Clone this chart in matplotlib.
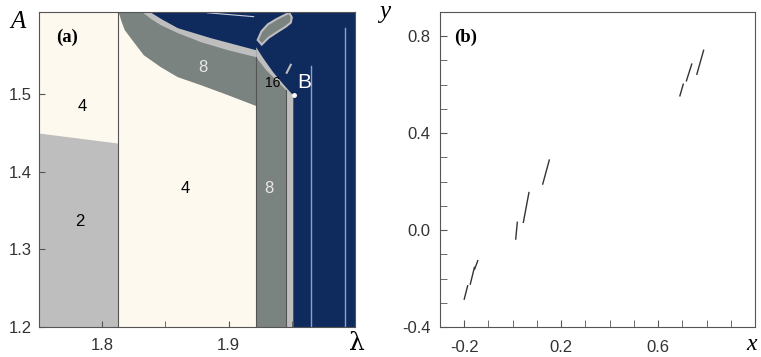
import numpy as np
import matplotlib.pyplot as plt
from matplotlib.ticker import MultipleLocator, FormatStrFormatter

plt.rcParams['font.family'] = ['Liberation Sans', 'DejaVu Sans']
plt.rcParams['axes.unicode_minus'] = False

# panel (a): region boundaries, (lambda, A)
lam_lim = (1.75, 2.0)
A_lim = (1.2, 1.606)

# boundary between period-2 and period-4 on the left
split_lam = [1.75, 1.8127]
split_A = [1.450, 1.437]

# curved period-8 band (lower edge, upper edge, top of light rim)
band_low_lam = [1.8127, 1.8151, 1.8175, 1.8222, 1.8325, 1.8460, 1.8595, 1.8778, 1.8992, 1.9214]
band_low_A = [1.606, 1.5935, 1.5832, 1.573, 1.551, 1.5355, 1.5226, 1.5123, 1.4994, 1.4855]
band_up_lam = [1.8127, 1.8317, 1.8380, 1.8460, 1.8595, 1.8778, 1.8992, 1.9214]
band_up_A = [1.606, 1.606, 1.598, 1.5897, 1.5794, 1.5677, 1.5574, 1.5484]
rim_lam = [1.8127, 1.8381, 1.8470, 1.8595, 1.8857, 1.9214]
rim_A = [1.606, 1.606, 1.597, 1.5858, 1.5729, 1.5574]

# vertical column next to the chaos region
col_rim_lam = [1.9214, 1.9270, 1.9349, 1.9429, 1.9492, 1.9508]
col_rim_A = [1.5613, 1.5471, 1.5290, 1.5135, 1.5019, 1.4994]
col_lam = [1.9214, 1.9294, 1.9373, 1.9452]
col_A = [1.5484, 1.5316, 1.5187, 1.5058]

# small island near the top
isl_lam = [1.9230, 1.9260, 1.9310, 1.9370, 1.9429, 1.9480, 1.9500, 1.9492, 1.9452, 1.9389, 1.9317, 1.9262]
isl_A = [1.5700, 1.5810, 1.5900, 1.5960, 1.6010, 1.6050, 1.5990, 1.5923, 1.5871, 1.5806, 1.5729, 1.5640]

# thin windows inside the chaotic region
win_lam = [1.965, 1.992]
win_top = [1.536, 1.585]

point_B = (1.9516, 1.4994)

# panel (b): attractor pieces as short segments (x0, y0, x1, y1)
seg_x0 = [-0.200, -0.175, -0.157, 0.0125, 0.044, 0.124, 0.690, 0.717, 0.760]
seg_y0 = [-0.285, -0.223, -0.161, -0.037, 0.032, 0.190, 0.554, 0.616, 0.643]
seg_x1 = [-0.186, -0.158, -0.144, 0.019, 0.067, 0.151, 0.704, 0.739, 0.788]
seg_y1 = [-0.230, -0.154, -0.126, 0.032, 0.155, 0.289, 0.602, 0.685, 0.742]

cream = '#fdf9ef'
light = '#bdbebd'
dark = '#7a837f'
navy = '#0f2a5d'
edge = '#555555'

fig = plt.figure(figsize=(7.61, 3.57), dpi=100)
ax1 = fig.add_axes([0.0512, 0.0840, 0.4153, 0.8824])
ax2 = fig.add_axes([0.5782, 0.0840, 0.4139, 0.8824])

# ---- panel (a)
ax1.set_facecolor(navy)
ax1.fill_between([lam_lim[0], split_lam[1]], A_lim[0], A_lim[1], color=cream, lw=0)
ax1.fill_between(split_lam, A_lim[0], split_A, color=light, lw=0)
ax1.fill_between(rim_lam, A_lim[0], rim_A, color=light, lw=0)
ax1.fill_between(band_up_lam, A_lim[0], band_up_A, color=dark, lw=0)
ax1.fill_between(band_low_lam, A_lim[0], band_low_A, color=cream, lw=0)
ax1.fill_between(col_rim_lam, A_lim[0], col_rim_A, color=light, lw=0)
ax1.fill_between(col_lam, A_lim[0], col_A, color=dark, lw=0)
ax1.fill(isl_lam, isl_A, facecolor=dark, edgecolor=light, lw=1.5)
ax1.plot([1.9460, 1.9492], [1.5277, 1.5380], color=light, lw=1.5)
ax1.plot([1.8833, 1.9198], [1.605, 1.600], color='#c8d0e0', lw=0.8)

ax1.plot([split_lam[1], split_lam[1]], A_lim, color=edge, lw=0.8)
ax1.plot([col_lam[0], col_lam[0]], [A_lim[0], col_A[0]], color=edge, lw=0.8)
ax1.plot([col_lam[-1], col_lam[-1]], [A_lim[0], col_A[-1]], color=edge, lw=0.8)
for lx, top in zip(win_lam, win_top):
    ax1.plot([lx, lx], [A_lim[0], top], color='#8fa0c4', lw=1.0)

ax1.plot(*point_B, 'o', color='white', ms=2.5)

ax1.text(1.7841, 1.4839, '4', fontsize=12, ha='center', va='center')
ax1.text(1.7825, 1.3355, '2', fontsize=12, ha='center', va='center')
ax1.text(1.8659, 1.378, '4', fontsize=12, ha='center', va='center')
ax1.text(1.8794, 1.5342, '8', fontsize=12, ha='center', va='center', color='#e8e8e8')
ax1.text(1.9317, 1.378, '8', fontsize=12, ha='center', va='center', color='#e8e8e8')
ax1.text(1.935, 1.5148, '16', fontsize=10, ha='center', va='center')
ax1.text(1.9595, 1.5148, 'B', fontsize=15, ha='center', va='center', color='white')
ax1.text(0.055, 0.92, '(a)', transform=ax1.transAxes, fontsize=13.5, fontweight='bold',
         family='Liberation Serif', va='center')

ax1.set_xlim(lam_lim)
ax1.set_ylim(A_lim)
ax1.set_xticks([1.8, 1.9])
ax1.xaxis.set_minor_locator(MultipleLocator(0.05))
ax1.set_yticks([1.2, 1.3, 1.4, 1.5])
ax1.yaxis.set_major_formatter(FormatStrFormatter('%.1f'))
ax1.tick_params(which='both', direction='in', length=4, colors=edge, labelcolor='#333333',
                labelsize=12)
ax1.tick_params(axis='x', pad=8)
ax1.tick_params(axis='y', pad=5)
for s in ax1.spines.values():
    s.set_color(edge)
    s.set_linewidth(0.8)

fig.text(18 / 761, 1 - 22 / 357, 'A', fontsize=18, style='italic', family='Liberation Serif',
         ha='center', va='center')
fig.text(357 / 761, 1 - 343 / 357, 'λ', fontsize=18, family='DejaVu Serif',
         ha='center', va='center')

# ---- panel (b)
for x0, y0, x1, y1 in zip(seg_x0, seg_y0, seg_x1, seg_y1):
    ax2.plot([x0, x1], [y0, y1], color='#333333', lw=1.0)

ax2.text(0.045, 0.92, '(b)', transform=ax2.transAxes, fontsize=13.5, fontweight='bold',
         family='Liberation Serif', va='center')
ax2.set_xlim(-0.3, 1.0)
ax2.set_ylim(-0.4, 0.9)
ax2.set_xticks([-0.2, 0.2, 0.6])
ax2.set_yticks([-0.4, 0.0, 0.4, 0.8])
ax2.xaxis.set_minor_locator(MultipleLocator(0.1))
ax2.yaxis.set_minor_locator(MultipleLocator(0.1))
ax2.xaxis.set_major_formatter(FormatStrFormatter('%.1f'))
ax2.yaxis.set_major_formatter(FormatStrFormatter('%.1f'))
ax2.tick_params(which='both', direction='in', length=5, colors=edge, labelcolor='#333333',
                labelsize=12)
ax2.tick_params(axis='x', pad=9)
ax2.tick_params(axis='y', pad=7)
for s in ax2.spines.values():
    s.set_color(edge)
    s.set_linewidth(0.8)

fig.text(385 / 761, 1 - 12 / 357, 'y', fontsize=18, style='italic', family='Liberation Serif',
         ha='center', va='center')
fig.text(752 / 761, 1 - 344 / 357, 'x', fontsize=17, style='italic', family='Liberation Serif',
         ha='center', va='center')

fig.savefig('out.png', dpi=100, facecolor='white')
